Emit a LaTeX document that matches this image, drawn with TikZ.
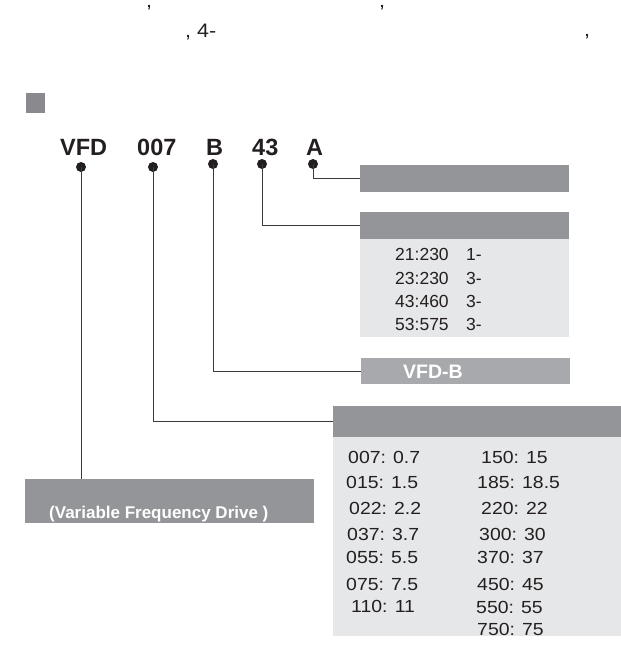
\documentclass[tikz,border=0pt]{standalone}
\usepackage{fontspec}
\setmainfont{Liberation Sans}
\definecolor{ink}{HTML}{231F20}
\definecolor{line}{HTML}{3A3A3C}
\definecolor{darkbox}{HTML}{939598}
\definecolor{midbox}{HTML}{A7A9AC}
\definecolor{lightbox}{HTML}{E6E7E8}
\definecolor{squarec}{HTML}{8A8A8E}
\begin{document}
\begin{tikzpicture}[x=1pt,y=-1pt,
  code/.style={anchor=base west,inner sep=0,font=\fontsize{23.5}{23.5}\selectfont\bfseries,text=ink},
  val/.style={anchor=base west,inner sep=0,font=\fontsize{17.5}{17.5}\selectfont,text=ink},
  pval/.style={anchor=base west,inner sep=0,font=\fontsize{17.5}{17.5}\selectfont\addfontfeature{FakeStretch=1.11},text=ink},
  top/.style={anchor=base west,inner sep=0,font=\fontsize{19.5}{19.5}\selectfont\addfontfeature{FakeStretch=1.1},text=ink},
  boxd/.style={anchor=north west,inner sep=0,draw=none,fill=darkbox},
  boxl/.style={anchor=north west,inner sep=0,draw=none,fill=lightbox},
  wtext/.style={anchor=base west,inner sep=0,text=white,font=\bfseries},
  dot/.style={circle,fill=ink,inner sep=0,minimum size=10pt},
  conn/.style={draw=line,line width=1pt}]
\useasboundingbox (0,0) rectangle (621,646);
% top text fragments
\node[top] (c1) at (146,7) {,};
\node[top] (c2) at (379,7) {,};
\node[top] (t4) at (185,37) {, 4-};
\node[top] (c3) at (584,36) {,};
% gray square
\node[anchor=north west,inner sep=0,fill=squarec,minimum width=19pt,minimum height=20pt] (sq) at (26,93) {};
% code letters
\node[code] (cVFD) at (60,155) {VFD};
\node[code] (c007) at (137,155) {007};
\node[code] (cB) at (206,155) {B};
\node[code] (c43) at (252,155) {43};
\node[code] (cA) at (306,155) {A};
% dots
\node[dot] (dVFD) at (81,167) {};
\node[dot] (d007) at (153,167) {};
\node[dot] (dB) at (213,164) {};
\node[dot] (d43) at (262,164) {};
\node[dot] (dA) at (313,164) {};
% boxes
\node[boxd,minimum width=209pt,minimum height=27pt] (b1) at (360,165) {};
\node[boxl,minimum width=209pt,minimum height=98pt] (b2body) at (360,239) {};
\node[boxd,minimum width=209pt,minimum height=27pt] (b2) at (360,212) {};
\node[boxd,fill=midbox,minimum width=209pt,minimum height=26pt] (b3) at (361,358) {};
\node[boxl,minimum width=288pt,minimum height=199pt] (b4body) at (333,437) {};
\node[boxd,minimum width=288pt,minimum height=31pt] (b4) at (333,406) {};
\node[boxd,minimum width=289pt,minimum height=44pt] (b5) at (25,479) {};
% connectors
\draw[conn] (dA.center) |- (b1.west);
\draw[conn] (d43.center) |- (b2.west);
\draw[conn] (dB.center) |- (b3.west);
\draw[conn] (d007.center) |- (b4.west);
\draw[conn] (dVFD.center) -- (dVFD.center |- b5.north);
% box texts
\node[wtext,font=\fontsize{19.5}{19.5}\selectfont\bfseries] (tB) at (403,378) {VFD-B};
\node[wtext,font=\fontsize{17}{17}\selectfont\bfseries] (tV) at (49,518) {(Variable Frequency Drive )};
% voltage table
\node[val] (v1) at (395,260) {21:230};
\node[val] (p1) at (466,260) {1-};
\node[val] (v2) at (395,284) {23:230};
\node[val] (p2) at (466,284) {3-};
\node[val] (v3) at (395,307) {43:460};
\node[val] (p3) at (466,307) {3-};
\node[val] (v4) at (395,330) {53:575};
\node[val] (p4) at (466,330) {3-};
% power table
\node[pval] (l1) at (348,463) {007: 0.7};
\node[pval] (l2) at (346,488) {015: 1.5};
\node[pval] (l3) at (349,514) {022: 2.2};
\node[pval] (l4) at (347,540) {037: 3.7};
\node[pval] (l5) at (346,563) {055: 5.5};
\node[pval] (l6) at (346,590) {075: 7.5};
\node[pval] (l7) at (351,612) {110: 11};
\node[pval] (r1) at (481,463) {150: 15};
\node[pval] (r2) at (477,488) {185: 18.5};
\node[pval] (r3) at (481,514) {220: 22};
\node[pval] (r4) at (479,540) {300: 30};
\node[pval] (r5) at (477,563) {370: 37};
\node[pval] (r6) at (477,590) {450: 45};
\node[pval] (r7) at (476,613) {550: 55};
\node[pval] (r8) at (477,635) {750: 75};
\end{tikzpicture}
\end{document}
